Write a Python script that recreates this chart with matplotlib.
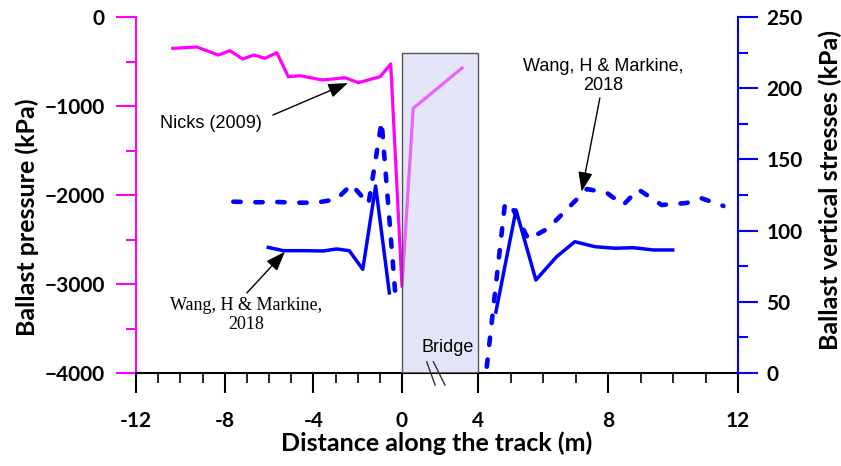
import numpy as np
import matplotlib
matplotlib.use('Agg')
import matplotlib.pyplot as plt
from matplotlib.patches import Rectangle

# Nicks (2009) - ballast pressure, left axis (kPa)
nicks_x = [-10.34, -9.26, -8.29, -7.76, -7.19, -6.68, -6.18, -5.65, -5.13, -4.60,
           -3.58, -2.57, -1.97, -0.99, -0.51, 0.0, 0.59, 3.16]
nicks_p = [-352, -337, -427, -379, -472, -427, -464, -401, -671, -660,
           -708, -682, -738, -671, -528, -3030, -1026, -573]

# Wang & Markine (2018) - solid, right axis (kPa)
wang_solid_x = [-6.03, -5.35, -4.45, -3.55, -2.95, -2.38, -1.77, -1.19, -0.57, None,
                4.55, 5.17, 5.78, 6.42, 6.98, 7.60, 8.22, 8.78, 9.39, 9.99]
wang_solid_s = [88.2, 85.9, 85.9, 85.7, 87.1, 85.9, 72.8, 131.3, 56.2, None,
                42.8, 114.5, 65.3, 81.7, 92.2, 88.7, 87.6, 88.0, 86.4, 86.4]

# Wang & Markine (2018) - dashed, right axis (kPa)
wang_dash_x = [-7.61, -6.55, -5.65, -4.75, -3.88, -2.95, -2.28, -1.51, -0.92, -0.27, None,
               4.27, 4.83, 5.04, 5.55, 6.16, 7.35, 7.96, 8.47, 8.93, 9.65, 10.42, 10.88, 11.55]
wang_dash_s = [120.3, 119.9, 120.1, 119.6, 119.6, 122.0, 132.4, 118.7, 176.5, 49.2, None,
               4.4, 119.2, 116.8, 93.9, 101.6, 129.2, 126.6, 118.0, 129.0, 118.0, 119.4, 122.7, 117.3]

bridge_start, bridge_end, bridge_top = 0, 4, -400

x_major = [-12, -8, -4, 0, 4, 8, 12]
x_minor = [-11, -10, -9, -7, -6, -5, -3, -2, -1, 5, 6, 7, 9, 10, 11]

# broken x axis: different stretch left of, over and right of the bridge
XB = [-100, -12, 0, 4, 12, 100]
UB = [-1951, 0, 266, 342, 602, 3462]


def fwd(x):
    return np.interp(x, XB, UB)


def inv(u):
    return np.interp(u, UB, XB)


def to_arr(v):
    return np.array([np.nan if a is None else a for a in v], dtype=float)


MAG = '#FF00FF'
BLUE = '#0000FF'
label_font = 'Lato'

fig = plt.figure(figsize=(8.41, 4.66), dpi=100)
ax = fig.add_axes([136 / 841, 1 - 373 / 466, 602 / 841, 356 / 466])
ax.set_xscale('function', functions=(fwd, inv))
ax2 = ax.twinx()

ax.plot(nicks_x, nicks_p, color=MAG, lw=2.3, zorder=2)
ax.add_patch(Rectangle((bridge_start, -4000), bridge_end - bridge_start, bridge_top + 4000,
                       facecolor=(0.8, 0.8, 0.957, 0.5), edgecolor='#555555', lw=1.0, zorder=3))

ax2.plot(to_arr(wang_solid_x), to_arr(wang_solid_s), color=BLUE, lw=2.5, zorder=3)
ax2.plot(to_arr(wang_dash_x), to_arr(wang_dash_s), color=BLUE, lw=3.3,
         linestyle=(0, (1.6, 3.2)), dash_capstyle='round', zorder=3)

ax.set_xlim(-12, 12)
ax.set_ylim(-4000, 0)
ax2.set_ylim(0, 250)

ax.set_xticks(x_major)
ax.set_xticks(x_minor, minor=True)
ax.set_xticklabels([str(v) for v in x_major])
ax.set_yticks(np.arange(-4000, 1, 1000))
ax.set_yticks(np.arange(-3500, 0, 1000), minor=True)
ax2.set_yticks(np.arange(0, 251, 50))
ax2.set_yticks(np.arange(25, 250, 50), minor=True)

for a in (ax, ax2):
    a.spines['top'].set_visible(False)
ax.spines['right'].set_visible(False)
ax2.spines['left'].set_visible(False)
ax2.spines['bottom'].set_visible(False)
ax.spines['left'].set_color(MAG)
ax.spines['left'].set_linewidth(1.5)
ax2.spines['right'].set_color(BLUE)
ax2.spines['right'].set_linewidth(1.5)
ax.spines['bottom'].set_linewidth(1.5)

ax.tick_params(axis='x', which='major', length=14.4, width=1.5, pad=13, direction='out')
ax.tick_params(axis='x', which='minor', length=7.2, width=1.2, direction='out')
ax.tick_params(axis='y', which='major', length=14.4, width=1.5, pad=8, color=MAG, direction='out')
ax.tick_params(axis='y', which='minor', length=7.2, width=1.5, color=MAG, direction='out')
ax2.tick_params(axis='y', which='major', length=14.4, width=1.5, pad=6, color=BLUE, direction='out')
ax2.tick_params(axis='y', which='minor', length=7.2, width=1.5, color=BLUE, direction='out')

for lab in ax.get_xticklabels() + ax.get_yticklabels() + ax2.get_yticklabels():
    lab.set_fontfamily(label_font)
    lab.set_fontweight('bold')
    lab.set_fontsize(15)

fig.text(27 / 841, 1 - 217 / 466, 'Ballast pressure (kPa)', rotation=90, ha='center', va='center',
         fontfamily=label_font, fontweight='bold', fontsize=18)
fig.text(830 / 841, 1 - 190 / 466, 'Ballast vertical stresses (kPa)', rotation=90, ha='center', va='center',
         fontfamily=label_font, fontweight='bold', fontsize=18)
fig.text(437 / 841, 1 - 443 / 466, 'Distance along the track (m)', ha='center', va='center',
         fontfamily=label_font, fontweight='bold', fontsize=18)

arrow = dict(arrowstyle='-|>,head_length=0.6,head_width=0.22', mutation_scale=20,
             color='black', lw=1.0, shrinkA=0, shrinkB=0)

ax.text(-8.64, -1199, 'Nicks (2009)', ha='center', va='center',
        fontfamily='Liberation Sans', fontsize=13)
ax.annotate('', xy=(-2.44, -742), xytext=(-5.82, -1101), arrowprops=arrow)

ax.text(-7.04, -3349, 'Wang, H & Markine,\n2018', ha='center', va='center',
        fontfamily='Liberation Serif', fontsize=13, linespacing=1.1)
ax.annotate('', xy=(-5.28, -2637), xytext=(-7.0, -3101), arrowprops=arrow)

ax.text(7.85, -663, 'Wang, H & Markine,\n2018', ha='center', va='center',
        fontfamily='Liberation Sans', fontsize=13, linespacing=1.1)
ax.annotate('', xy=(7.19, -1963), xytext=(7.75, -910), arrowprops=arrow)

ax.text(2.42, -3719, 'Bridge', ha='center', va='center',
        fontfamily='Liberation Sans', fontsize=13, zorder=5)
ax.plot([1.30, 1.74], [-3873, -4135], color='#333333', lw=1.0, clip_on=False, zorder=5)
ax.plot([1.65, 2.26], [-3873, -4135], color='#333333', lw=1.0, clip_on=False, zorder=5)

fig.savefig('out.png', dpi=100)
